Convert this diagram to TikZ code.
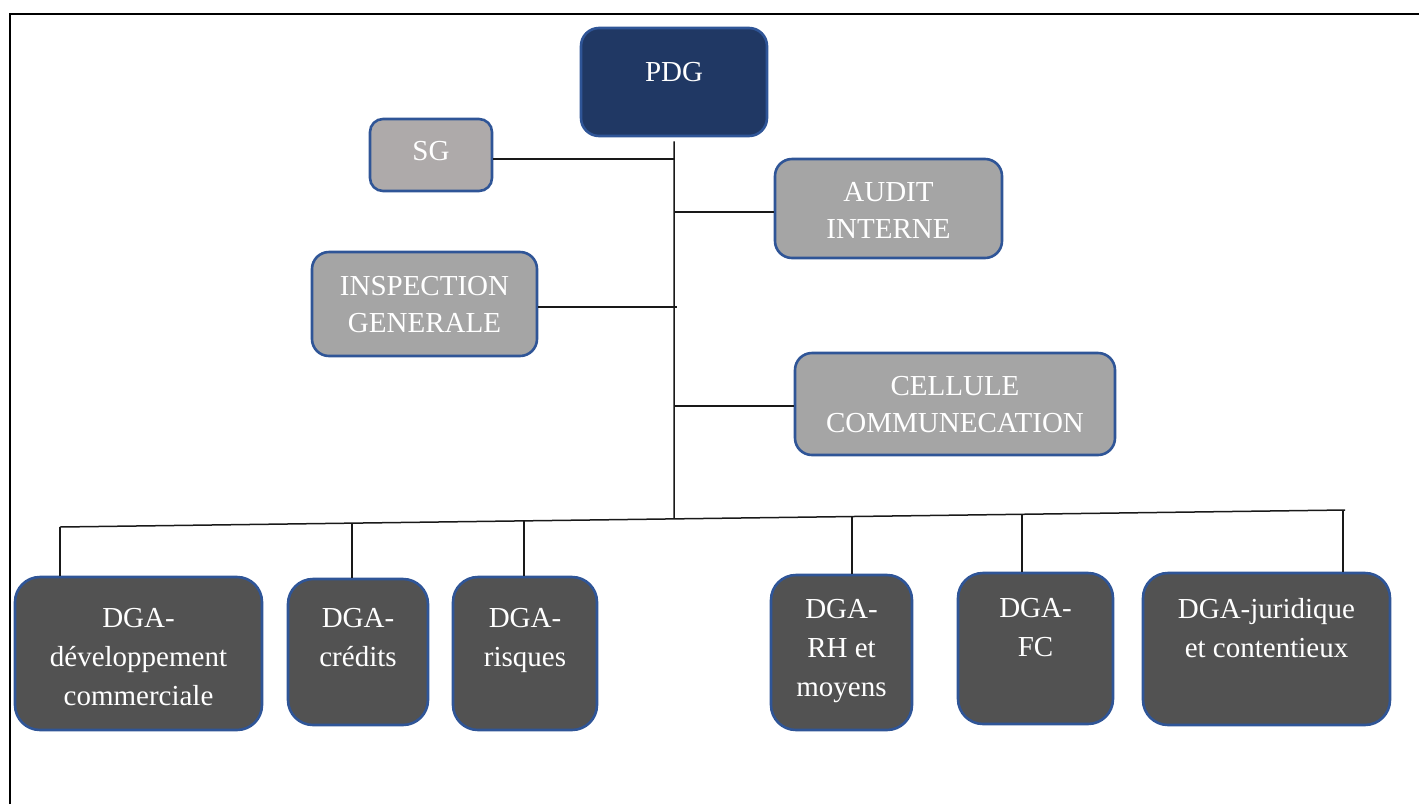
\documentclass[tikz,border=0pt]{standalone}
\usepackage{fontspec}
\setmainfont{Liberation Serif}
\usetikzlibrary{calc}
\definecolor{navy}{RGB}{32,56,100}
\definecolor{edgeblue}{RGB}{47,85,151}
\definecolor{warmgray}{RGB}{174,170,170}
\definecolor{midgray}{RGB}{165,165,165}
\definecolor{slate}{RGB}{82,82,82}
\begin{document}
\begin{tikzpicture}[x=1pt,y=-1pt,
  box/.style={draw=edgeblue, line width=2.6pt, rectangle, inner sep=0pt},
  topbox/.style={box, fill=midgray, rounded corners=17pt},
  dgabox/.style={box, fill=slate, rounded corners=25pt},
  lbl/.style={text=white, inner sep=0pt, anchor=north, align=center,
              font=\fontsize{29pt}{37pt}\selectfont},
  dlbl/.style={lbl, font=\fontsize{29pt}{39pt}\selectfont},
  link/.style={line width=1.5pt, black!90}
]
\useasboundingbox (0,0) rectangle (1419,804);

% page frame (top and left edges)
\draw[line width=1.6pt] (10,804) -- (10,14) -- (1419,14);

% head
\node[box, fill=navy, rounded corners=18pt, minimum width=186pt, minimum height=108pt] (pdg) at (674,82) {};
\node[lbl] (pdgT) at ([yshift=-35pt]pdg.north) {PDG};

% staff units
\node[topbox, fill=warmgray, rounded corners=13pt, minimum width=122pt, minimum height=72pt] (sg) at (431,155) {};
\node[lbl] (sgT) at ([yshift=-23pt]sg.north) {SG};

\node[topbox, minimum width=227pt, minimum height=99pt] (audit) at (888.5,208.5) {};
\node[lbl] (auditT) at ([yshift=-24pt]audit.north) {AUDIT\\INTERNE};

\node[topbox, minimum width=225pt, minimum height=104pt] (insp) at (424.5,304) {};
\node[lbl] (inspT) at ([yshift=-25pt]insp.north) {INSPECTION\\GENERALE};

\node[topbox, minimum width=320pt, minimum height=102pt] (cell) at (955,404) {};
\node[lbl] (cellT) at ([yshift=-24pt]cell.north) {CELLULE\\COMMUNECATION};

% deputy general directorates
\node[dgabox, minimum width=247pt, minimum height=153pt] (dev) at (138.5,653.5) {};
\node[dlbl] (devT) at ([yshift=-32pt]dev.north) {DGA-\\développement\\commerciale};

\node[dgabox, minimum width=140pt, minimum height=146pt] (cred) at (358,652) {};
\node[dlbl] (credT) at ([yshift=-30pt]cred.north) {DGA-\\crédits};

\node[dgabox, minimum width=144pt, minimum height=153pt] (risq) at (525,653.5) {};
\node[dlbl] (risqT) at ([yshift=-32pt]risq.north) {DGA-\\risques};

\node[dgabox, minimum width=141pt, minimum height=155pt] (rh) at (841.5,652.5) {};
\node[dlbl] (rhT) at ([yshift=-25pt]rh.north) {DGA-\\RH et\\moyens};

\node[dgabox, minimum width=155pt, minimum height=151pt] (fc) at (1035.5,648.5) {};
\node[dlbl] (fcT) at ([yshift=-26pt]fc.north) {DGA-\\FC};

\node[dgabox, minimum width=247pt, minimum height=152pt] (jur) at (1266.5,649) {};
\node[dlbl] (jurT) at ([yshift=-26pt]jur.north) {DGA-juridique\\et contentieux};

% bus and its junctions
\coordinate (busL) at (60,527);
\coordinate (busR) at (1345,510);
\coordinate (jtrunk) at ($(busL)!0.478!(busR)$);
\coordinate (jdev)   at (busL);
\coordinate (jcred)  at ($(busL)!0.2272!(busR)$);
\coordinate (jrisq)  at ($(busL)!0.3611!(busR)$);
\coordinate (jrh)    at ($(busL)!0.6163!(busR)$);
\coordinate (jfc)    at ($(busL)!0.7486!(busR)$);
\coordinate (jjur)   at ($(busL)!0.9984!(busR)$);

% trunk
\coordinate (trunkTop) at ([yshift=-4pt]pdg.south);
\draw[link] (trunkTop) -- (jtrunk);

% staff links
\draw[link] ([yshift=-4pt]sg.east) -- ([yshift=-4pt]sg.east -| trunkTop);
\draw[link] ([yshift=-3.5pt]audit.west) -- ([yshift=-3.5pt]audit.west -| trunkTop);
\draw[link] ([yshift=-3pt]insp.east) -- ([xshift=3pt,yshift=-3pt]insp.east -| trunkTop);
\draw[link] ([yshift=-2pt]cell.west) -- ([yshift=-2pt]cell.west -| trunkTop);

% bus and drops
\draw[link] (busL) -- (busR);
\draw[link] (jdev)  -- (jdev  |- dev.north);
\draw[link] (jcred) -- (jcred |- cred.north);
\draw[link] (jrisq) -- (jrisq |- risq.north);
\draw[link] (jrh)   -- (jrh   |- rh.north);
\draw[link] (jfc)   -- (jfc   |- fc.north);
\draw[link] (jjur)  -- (jjur  |- jur.north);
\end{tikzpicture}
\end{document}
